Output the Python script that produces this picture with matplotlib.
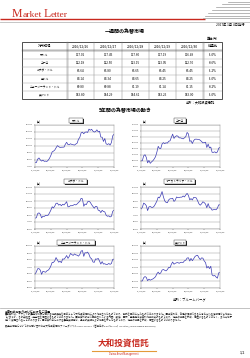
#Market Letter - weekly & 5-year FX page

import numpy as np
import pandas as pd
import matplotlib.pyplot as plt
from matplotlib.patches import Rectangle

plt.rcParams['font.family'] = ['Noto Sans CJK JP', 'DejaVu Sans']

# ---- table data (one week) ----
table_dates = ['2016/12/26', '2016/12/27', '2016/12/28', '2016/12/29', '2016/12/30']
currencies = ['米ドル', 'ユーロ', 'カナダ・ドル', '豪ドル', 'ニュージーランド・ドル', '英ポンド']
rates = [[117.02, 117.45, 117.60, 117.19, 116.49],
         [122.18, 122.50, 123.15, 123.05, 122.70],
         [86.64, 86.80, 86.65, 86.45, 86.45],
         [84.14, 84.34, 84.65, 84.25, 84.25],
         [80.80, 80.88, 81.19, 81.14, 81.15],
         [143.80, 144.29, 144.61, 143.25, 143.00]]
changes = ['-1.0%', '-0.6%', '-1.2%', '-1.0%', '-0.2%', '-1.0%']

# ---- 5 year monthly data (Dec 2011 - Dec 2016) ----
months = pd.date_range('2011-12-31', '2016-12-31', freq='ME')
usd = [76.9,
       76.3, 81.2, 82.9, 80.2, 78.4, 79.8, 78.1, 78.4, 77.9, 79.8, 82.5, 86.6,
       91.7, 92.6, 94.2, 97.4, 100.5, 99.1, 97.9, 98.2, 98.3, 98.4, 102.4, 105.3,
       102.0, 101.8, 103.2, 102.2, 101.8, 101.3, 102.8, 104.1, 109.6, 112.3, 118.6, 119.8,
       117.5, 119.6, 120.1, 119.4, 124.1, 122.5, 123.9, 121.2, 119.9, 120.6, 123.1, 120.2,
       121.1, 112.7, 112.6, 106.5, 110.7, 103.2, 102.1, 103.4, 101.3, 104.8, 114.5, 116.9]
eur = [100.2,
       100.6, 108.6, 110.5, 106.1, 96.9, 101.0, 96.1, 98.6, 100.5, 103.5, 107.2, 114.7,
       124.5, 121.1, 120.8, 128.3, 130.6, 129.0, 130.3, 129.8, 132.9, 133.6, 139.2, 144.8,
       137.6, 140.5, 142.1, 141.4, 138.6, 138.6, 137.7, 136.9, 138.6, 140.7, 147.6, 145.1,
       132.6, 134.0, 129.1, 133.9, 136.3, 136.4, 136.1, 136.0, 134.6, 132.5, 130.2, 130.7,
       131.3, 122.6, 128.2, 121.9, 123.2, 114.5, 114.4, 115.3, 113.5, 115.1, 121.3, 122.7]
cad = [75.5,
       76.1, 82.0, 83.1, 81.2, 75.9, 78.2, 77.9, 79.5, 79.2, 79.9, 83.1, 87.0,
       91.8, 90.0, 92.7, 96.7, 96.9, 94.1, 95.3, 93.2, 95.4, 94.3, 96.5, 99.0,
       91.6, 92.0, 93.4, 93.2, 93.9, 95.0, 94.4, 95.8, 97.9, 99.6, 103.8, 103.1,
       92.5, 95.7, 94.8, 98.9, 99.7, 98.2, 94.8, 92.2, 89.7, 92.3, 92.2, 86.8,
       86.4, 83.4, 86.7, 84.9, 84.5, 79.8, 78.2, 78.8, 77.2, 78.1, 85.2, 87.0]
aud = [78.6,
       81.0, 87.0, 85.7, 83.4, 76.3, 81.5, 82.2, 80.9, 81.0, 82.8, 86.1, 89.9,
       95.5, 94.4, 98.2, 103.5, 96.0, 90.3, 88.0, 87.5, 91.6, 93.2, 93.2, 93.9,
       89.4, 91.0, 95.7, 94.9, 95.0, 95.5, 95.5, 97.2, 95.8, 98.7, 100.9, 98.0,
       91.5, 93.5, 91.4, 95.1, 95.0, 94.4, 90.4, 86.0, 84.0, 86.0, 88.9, 87.7,
       85.6, 80.4, 86.3, 80.9, 80.0, 76.9, 77.6, 77.7, 77.5, 79.8, 84.5, 84.5]
nzd = [59.9,
       63.0, 67.5, 67.7, 65.6, 59.5, 63.9, 63.2, 62.5, 64.5, 65.5, 67.6, 71.6,
       76.7, 76.5, 78.8, 83.5, 80.0, 76.9, 78.2, 76.2, 81.6, 81.1, 83.3, 86.4,
       82.3, 85.0, 89.4, 87.8, 86.5, 88.7, 87.3, 86.9, 85.5, 87.8, 92.7, 93.5,
       85.2, 90.4, 90.0, 91.3, 88.1, 83.2, 81.8, 77.2, 76.6, 81.6, 81.1, 82.3,
       78.4, 74.2, 77.7, 74.2, 74.7, 73.6, 73.6, 75.1, 73.8, 74.9, 80.9, 81.3]
gbp = [119.8,
       120.3, 129.3, 132.7, 130.4, 120.9, 125.2, 122.4, 124.3, 125.9, 128.8, 132.2, 140.6,
       145.4, 140.3, 143.2, 151.2, 152.9, 150.7, 148.9, 152.6, 158.9, 158.0, 167.5, 174.3,
       167.9, 170.5, 172.1, 172.6, 170.5, 173.2, 173.5, 172.9, 177.7, 179.5, 185.6, 186.4,
       177.0, 184.6, 178.0, 183.4, 189.8, 192.6, 193.5, 186.3, 181.3, 186.1, 185.3, 177.3,
       172.6, 157.0, 161.8, 155.5, 162.2, 137.4, 134.5, 135.8, 131.4, 128.1, 143.3, 144.0]

year_ticks = pd.to_datetime(['2011-12-30', '2012-12-30', '2013-12-30',
                             '2014-12-30', '2015-12-30', '2016-12-30'])
year_labels = ['11/12/30', '12/12/30', '13/12/30', '14/12/30', '15/12/30', '16/12/30']

W, H = 250, 358
fig = plt.figure(figsize=(W / 100, H / 100), dpi=100)

def box(x, y, w, h):
    return [x / W, 1 - (y + h) / H, w / W, h / H]

bg = fig.add_axes([0, 0, 1, 1])
bg.set_xlim(0, W)
bg.set_ylim(H, 0)
bg.axis('off')

red = '#c8281e'

# header
serif = 'Liberation Serif'
bg.text(12, 17, 'M', fontsize=8.5, color=red, family=serif, va='baseline')
bg.text(22.8, 17, 'arket', fontsize=6.8, color=red, family=serif, va='baseline')
bg.text(43.5, 17, 'L', fontsize=8.5, color=red, family=serif, va='baseline')
bg.text(51, 17, 'etter', fontsize=6.8, color=red, family=serif, va='baseline')
bg.plot([0, 205], [18.6, 18.6], color=red, lw=1.0, solid_capstyle='butt')
bg.plot([0, 250], [21.6, 21.6], color='#bbbbbb', lw=0.6)
for i, x0 in enumerate([228, 222, 216, 212, 208, 205, 203]):
    bg.plot([x0, 250], [1.5 + i * 2.8, 1.5 + i * 2.8], color='#9a9a9a', lw=0.5)

bg.text(245, 25, '2017年 1月 4日発行', fontsize=2.3, ha='right', va='center')
bg.text(125, 32, '一週間の為替市場', fontsize=3.6, weight='bold', ha='center', va='center')
bg.text(217, 39, '単位:円', fontsize=2.3, ha='right', va='center')

# table
col_x = [22, 67, 94, 122, 149, 176, 203, 222]
top, head_h, row_h = 42, 8.5, 8
row_y = [top + head_h + i * row_h for i in range(len(currencies) + 1)]
bottom = row_y[-1]
bg.add_patch(Rectangle((col_x[0], top), col_x[-1] - col_x[0], bottom - top,
                       fill=False, ec='#333333', lw=0.6))
for x in col_x[1:-1]:
    bg.plot([x, x], [top, bottom], color='#777777', lw=0.3)
for x in (col_x[1], col_x[-2]):
    bg.plot([x + 0.8, x + 0.8], [top, bottom], color='#777777', lw=0.3)
for y in row_y[1:-1]:
    bg.plot([col_x[0], col_x[-1]], [y, y], color='#999999', lw=0.3)
bg.plot([col_x[0], col_x[-1]], [row_y[0], row_y[0]], color='#444444', lw=0.3)
bg.plot([col_x[0], col_x[-1]], [row_y[0] - 0.8, row_y[0] - 0.8], color='#444444', lw=0.3)

headers = ['対円相場'] + table_dates + ['前週比']
for j, t in enumerate(headers):
    bg.text((col_x[j] + col_x[j + 1]) / 2, top + head_h / 2, t, fontsize=2.4,
            ha='center', va='center')
for i, name in enumerate(currencies):
    yc = row_y[i] + row_h / 2
    bg.text((col_x[0] + col_x[1]) / 2, yc, name, fontsize=2.0, ha='center', va='center')
    for j, v in enumerate(rates[i]):
        bg.text((col_x[j + 1] + col_x[j + 2]) / 2, yc, '%.2f' % v, fontsize=2.2,
                ha='center', va='center')
    bg.text((col_x[-2] + col_x[-1]) / 2, yc, changes[i], fontsize=2.2,
            ha='center', va='center')

bg.text(215, 102, '出所：大和投資信託', fontsize=2.3, ha='right', va='center')
bg.text(125, 110.5, '5年間の為替市場の動き', fontsize=3.6, weight='bold', ha='center', va='center')

# charts
charts = [('米ドル', usd, 70, 130, 10, (35, 125), (69, 118, 14)),
          ('ユーロ', eur, 90, 160, 10, (141, 125), (174, 118, 12)),
          ('カナダ・ドル', cad, 60, 120, 10, (35, 187), (64, 179, 23)),
          ('オーストラリア・ドル', aud, 50, 110, 10, (141, 187), (164, 179, 31)),
          ('ニュージーランド・ドル', nzd, 40, 100, 10, (35, 246), (57, 240, 38)),
          ('英ポンド', gbp, 100, 220, 20, (141, 246), (174, 240, 12))]

for title, vals, lo, hi, step, (px, py), (bx, by, bw) in charts:
    ax = fig.add_axes(box(px, py, 79, 42))
    ax.plot(months, vals, color='#3b3bb5', lw=0.5)
    ax.set_ylim(lo, hi)
    ax.set_yticks(np.arange(lo, hi + step, step))
    ax.set_yticklabels(['%.2f' % v for v in np.arange(lo, hi + step, step)])
    ax.set_xlim(year_ticks[0], year_ticks[-1])
    ax.set_xticks(year_ticks)
    ax.set_xticklabels(year_labels)
    ax.tick_params(labelsize=1.7, length=0.8, width=0.3, pad=0.8, colors='#333333')
    ax.grid(axis='y', color='#a0a0a0', lw=0.35)
    for s in ax.spines.values():
        s.set_color('#909090')
        s.set_linewidth(0.35)
    bg.text(px + 2, py - 0.6, '(円)', fontsize=1.8, ha='left', va='bottom')
    bg.add_patch(Rectangle((bx + 0.7, by + 0.7), bw, 5.2, fc='#222222', ec='none'))
    bg.add_patch(Rectangle((bx, by), bw, 5.2, fc='white', ec='#333333', lw=0.3))
    bg.text(bx + bw / 2, by + 2.6, title, fontsize=2.0, ha='center', va='center')

bg.text(173, 300, '出所：ブルームバーグ', fontsize=2.4, ha='left', va='center')
bg.plot([0, 250], [308, 308], color='#aaaaaa', lw=0.5)

# notes
bg.text(5, 311, '当資料のお取り扱いにおけるご注意', fontsize=2.1, weight='bold', va='center')
note = ('■当資料は、ファンドの運用や市況に関する情報提供を目的として大和投資信託により作成されたものであり、'
        '勧誘を目的としたものではありません。■当資料は、各種の信頼できると考えられる情報源から作成していますが、'
        'その正確性・完全性を保証するものではありません。■当資料の中で記載されている内容、数値、図表、意見等は'
        '当資料作成時点のものであり、将来の成果を示唆・保証するものではなく、また今後予告なく変更されることが'
        'あります。■当資料中における運用実績等は、過去の実績および結果を示したものであり、将来の成果を示唆・'
        '保証するものではありません。')
n = 96
for k, i in enumerate(range(0, len(note), n)):
    bg.text(5, 314.5 + k * 3, note[i:i + n], fontsize=1.75, va='center', color='#222222')
bg.text(5, 314.5 + 4 * 3, '販売会社等についてのお問い合わせ⇒大和投資信託 フリーダイヤル 0120-106212'
        '（営業日の9:00～17:00）HP http://www.daiwa-am.co.jp/', fontsize=1.75, va='center',
        color='#222222')

bg.text(124, 343.5, '大和投資信託', fontsize=6.2, color=red, weight='bold', ha='center', va='center')
bg.plot([92, 156], [350.5, 350.5], color='#e39a3a', lw=0.8)
bg.text(124, 354, 'Daiwa Asset Management', fontsize=1.8, color=red, ha='center', va='center')
bg.text(245, 353, '1/2', fontsize=2.6, ha='right', va='center')

fig.savefig('out.png', dpi=100)
